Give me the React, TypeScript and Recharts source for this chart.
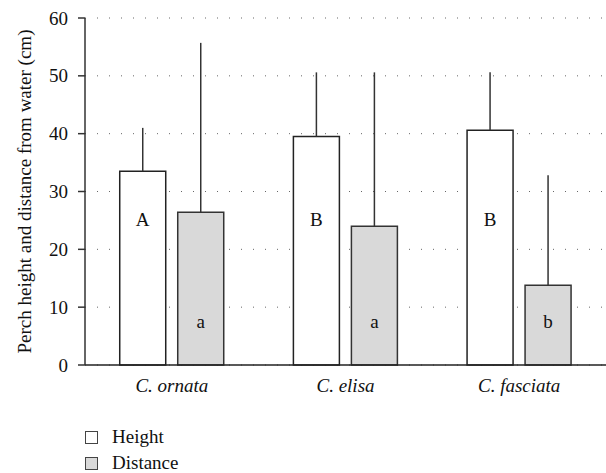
import React from "react";
import { BarChart, Bar, XAxis, YAxis, CartesianGrid, Legend, ErrorBar, LabelList, Label } from "recharts";

// Species on the x axis
const species = ["C. ornata", "C. elisa", "C. fasciata"];

// Perch height (cm) and upper error
const heightMean = [33.5, 39.5, 40.6];
const heightErr = [7.5, 11.1, 10.0];

// Distance from water (cm) and upper error
const distanceMean = [26.4, 24.0, 13.8];
const distanceErr = [29.3, 26.6, 19.0];

// Significance letters
const heightLetters = ["A", "B", "B"];
const distanceLetters = ["a", "a", "b"];

const yTicks = [0, 10, 20, 30, 40, 50, 60];

const FONT = "Liberation Serif, Times New Roman, DejaVu Serif, serif";

const data = species.map((name, i) => ({
  name,
  height: heightMean[i],
  heightErr: [0, heightErr[i]],
  heightLetter: heightLetters[i],
  distance: distanceMean[i],
  distanceErr: [0, distanceErr[i]],
  distanceLetter: distanceLetters[i],
}));

// letters sit at a fixed height above the baseline
const letterLabel = (offset: number) => (props: any) => {
  const { x, y, width, height, value } = props;
  const bottom = Number(y) + Number(height);
  return (
    <text
      x={Number(x) + Number(width) / 2}
      y={bottom - offset}
      textAnchor="middle"
      dominantBaseline="central"
      style={{ fontFamily: FONT, fontSize: 19 }}
      fill="#111"
    >
      {value}
    </text>
  );
};

const YTick = (props: any) => {
  const { x, y, payload } = props;
  return (
    <text x={x} y={y} textAnchor="end" dominantBaseline="central" fill="#111" style={{ fontFamily: FONT, fontSize: 19 }}>
      {payload.value}
    </text>
  );
};

const XTick = (props: any) => {
  const { x, y, payload } = props;
  return (
    <text x={x} y={Number(y) + 10} textAnchor="middle" dominantBaseline="central" fill="#111" style={{ fontFamily: FONT, fontSize: 19, fontStyle: "italic" }}>
      {payload.value}
    </text>
  );
};

const YTitle = (props: any) => {
  const { viewBox } = props;
  const cy = viewBox.y + viewBox.height / 2;
  return (
    <text
      x={24}
      y={cy}
      transform={`rotate(-90, 24, ${cy})`}
      textAnchor="middle"
      dominantBaseline="central"
      fill="#111"
      style={{ fontFamily: FONT, fontSize: 19 }}
    >
      Perch height and distance from water (cm)
    </text>
  );
};

const LegendBox = () => (
  <div style={{ fontFamily: FONT, fontSize: 19, color: "#111" }}>
    {[
      { label: "Height", fill: "#ffffff" },
      { label: "Distance", fill: "#d9d9d9" },
    ].map((d) => (
      <div key={d.label} style={{ display: "flex", alignItems: "center", height: 26 }}>
        <span
          style={{
            display: "inline-block",
            width: 11,
            height: 11,
            background: d.fill,
            border: "1.5px solid #444",
            marginRight: 14,
          }}
        />
        {d.label}
      </div>
    ))}
  </div>
);

export default function App() {
  return (
    <div style={{ position: "absolute", left: 0, top: 0 }}>
      <BarChart
        width={606}
        height={473}
        data={data}
        margin={{ top: 18, right: 0, left: 0, bottom: 0 }}
        barCategoryGap="20%"
        barGap={12}
      >
        <CartesianGrid vertical={false} stroke="#666" strokeDasharray="1 11" />
        <XAxis
          dataKey="name"
          height={56}
          tickLine={false}
          axisLine={{ stroke: "#222", strokeWidth: 1.5 }}
          tickMargin={4}
          tick={<XTick />}
        />
        <YAxis
          width={85}
          domain={[0, 60]}
          ticks={yTicks}
          interval={0}
          tickSize={7}
          tickMargin={10}
          tickLine={{ stroke: "#333", strokeWidth: 1.5 }}
          axisLine={{ stroke: "#333", strokeWidth: 1.5 }}
          tick={<YTick />}
        >
          <Label content={<YTitle />} />
        </YAxis>
        <Legend
          layout="horizontal"
          verticalAlign="bottom"
          align="left"
          content={<LegendBox />}
          wrapperStyle={{ left: 85, bottom: -3 }}
        />
        <Bar dataKey="height" fill="#ffffff" stroke="#222" strokeWidth={1.5} isAnimationActive={false}>
          <ErrorBar dataKey="heightErr" width={0} stroke="#333" strokeWidth={1.5} direction="y" />
          <LabelList dataKey="heightLetter" content={letterLabel(146)} />
        </Bar>
        <Bar dataKey="distance" fill="#d9d9d9" stroke="#333" strokeWidth={1.5} isAnimationActive={false}>
          <ErrorBar dataKey="distanceErr" width={0} stroke="#333" strokeWidth={1.5} direction="y" />
          <LabelList dataKey="distanceLetter" content={letterLabel(44)} />
        </Bar>
      </BarChart>
    </div>
  );
}
